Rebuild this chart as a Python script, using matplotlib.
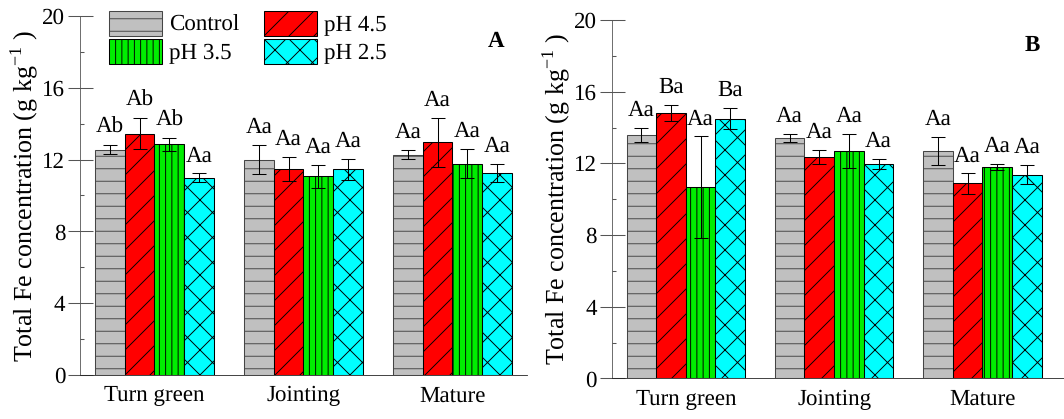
import numpy as np
import matplotlib
matplotlib.use("Agg")
import matplotlib.pyplot as plt
from matplotlib.patches import Patch
from matplotlib.ticker import MultipleLocator

matplotlib.rcParams["font.family"] = ["Liberation Serif", "DejaVu Serif"]
matplotlib.rcParams["mathtext.fontset"] = "custom"
matplotlib.rcParams["mathtext.rm"] = "Liberation Serif"
matplotlib.rcParams["text.hinting"] = "no_hinting"
matplotlib.rcParams["text.hinting_factor"] = 1
matplotlib.rcParams["font.size"] = 21
matplotlib.rcParams["hatch.linewidth"] = 0.9

stages = ["Turn green", "Jointing", "Mature"]
treatments = ["Control", "pH 4.5", "pH 3.5", "pH 2.5"]

# panel A
a_mean = {"Control": [12.55, 12.0, 12.27],
          "pH 4.5": [13.45, 11.5, 12.95],
          "pH 3.5": [12.85, 11.07, 11.78],
          "pH 2.5": [10.98, 11.45, 11.25]}
a_err = {"Control": [0.25, 0.8, 0.25],
         "pH 4.5": [0.87, 0.67, 1.38],
         "pH 3.5": [0.35, 0.65, 0.83],
         "pH 2.5": [0.25, 0.6, 0.5]}
a_lab = {"Control": ["Ab", "Aa", "Aa"],
         "pH 4.5": ["Ab", "Aa", "Aa"],
         "pH 3.5": ["Ab", "Aa", "Aa"],
         "pH 2.5": ["Aa", "Aa", "Aa"]}

# panel B
b_mean = {"Control": [13.6, 13.4, 12.7],
          "pH 4.5": [14.8, 12.37, 10.88],
          "pH 3.5": [10.66, 12.7, 11.82],
          "pH 2.5": [14.5, 11.96, 11.38]}
b_err = {"Control": [0.4, 0.23, 0.8],
         "pH 4.5": [0.45, 0.4, 0.56],
         "pH 3.5": [2.85, 0.93, 0.17],
         "pH 2.5": [0.6, 0.27, 0.55]}
b_lab = {"Control": ["Aa", "Aa", "Aa"],
         "pH 4.5": ["Ba", "Aa", "Aa"],
         "pH 3.5": ["Aa", "Aa", "Aa"],
         "pH 2.5": ["Ba", "Aa", "Aa"]}

colors = {"Control": "#c0c0c0", "pH 4.5": "#ff0000", "pH 3.5": "#00ee00", "pH 2.5": "#00ffff"}
edges = {"Control": "#454545", "pH 4.5": "#000000", "pH 3.5": "#000000", "pH 2.5": "#000000"}
hatches = {"Control": "-", "pH 4.5": "/", "pH 3.5": "||", "pH 2.5": "x"}

dpi = 75
fig = plt.figure(figsize=(1064 / dpi, 419 / dpi), dpi=dpi)
axA = fig.add_axes([0.0752, 0.105, 0.420, 0.857])
axB = fig.add_axes([0.5749, 0.097, 0.425, 0.855])

x = np.arange(len(stages))
w = 0.2


def draw(ax, means, errs, labs, letter):
    for i, t in enumerate(treatments):
        pos = x + (i - 1.5) * w
        ax.bar(pos, means[t], w, color=colors[t], edgecolor=edges[t],
               hatch=hatches[t], linewidth=1.0, zorder=2)
        ax.errorbar(pos, means[t], yerr=errs[t], fmt="none", ecolor="black",
                    elinewidth=1.0, capsize=7, capthick=1.0, zorder=3)
        for p, m, e, s in zip(pos, means[t], errs[t], labs[t]):
            ax.text(p, m + e + 0.4, s, ha="center", va="bottom", fontsize=22)
    ax.set_ylim(0, 20)
    ax.set_xlim(-0.5, 2.5)
    ax.yaxis.set_major_locator(MultipleLocator(4))
    ax.yaxis.set_minor_locator(MultipleLocator(2))
    ax.tick_params(axis="y", which="major", direction="inout", length=24,
                   width=1.0, color="#555555", pad=2, labelsize=22)
    ax.tick_params(axis="y", which="minor", direction="in", length=4,
                   width=1.0, color="#555555")
    ax.tick_params(axis="x", length=0, pad=10, labelsize=22)
    ax.set_xticks(x)
    ax.set_xticklabels(stages)
    for s in ["top", "right"]:
        ax.spines[s].set_visible(False)
    ax.spines["left"].set_color("#555555")
    ax.spines["bottom"].set_color("#222222")
    ax.set_ylabel("Total Fe concentration (g kg$^{-1}$ )", fontsize=25, labelpad=2)
    ax.text(0.93, 0.93, letter, transform=ax.transAxes, fontsize=22,
            fontweight="bold", ha="center", va="center")


draw(axA, a_mean, a_err, a_lab, "A")
draw(axB, b_mean, b_err, b_lab, "B")
axB.set_xlim(-0.5, 2.55)

handles = [Patch(facecolor=colors[t], edgecolor=edges[t], hatch=hatches[t], label=t)
           for t in ["Control", "pH 3.5", "pH 4.5", "pH 2.5"]]
axA.legend(handles=handles, ncol=2, loc="upper left", bbox_to_anchor=(0.065, 1.015),
           frameon=False, handlelength=2.3, handleheight=1.3, handletextpad=0.3,
           columnspacing=1.1, labelspacing=0.15, borderpad=0, borderaxespad=0,
           fontsize=22)

fig.savefig("out.png", dpi=dpi)
